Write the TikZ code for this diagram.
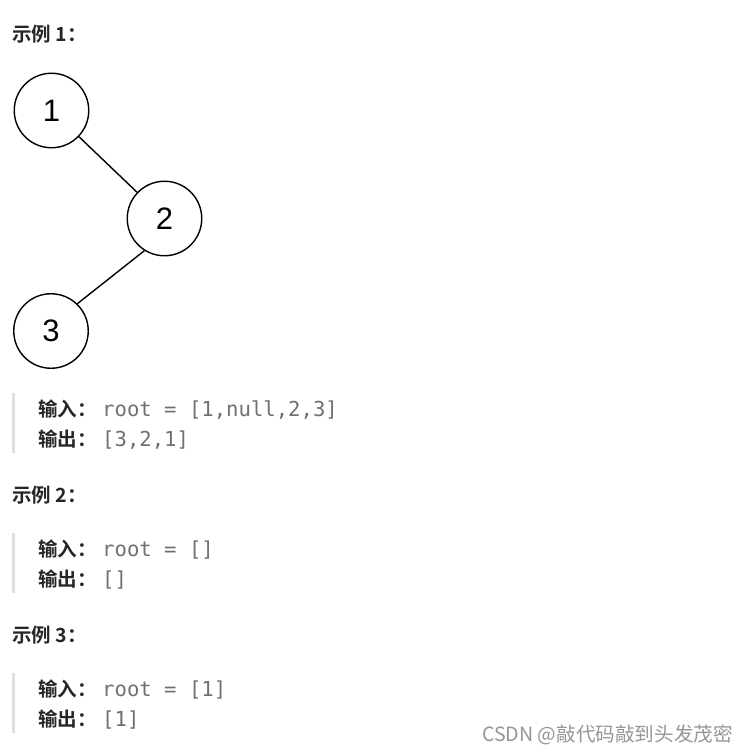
\documentclass[tikz,border=0pt]{standalone}
\usepackage{fontspec}
\setmainfont{Liberation Sans}
\newfontfamily\cjk{Noto Sans CJK SC}
\newfontfamily\cjkbold{Noto Sans CJK SC Bold}
\newfontfamily\codefont{DejaVu Sans Mono}
\definecolor{titlegray}{RGB}{38, 38, 38}
\definecolor{codegray}{RGB}{112, 112, 112}
\definecolor{bargray}{RGB}{222, 222, 222}
\definecolor{markgray}{RGB}{150, 150, 150}
\tikzset{
	treenode/.style = {circle, draw, line width = 1.4pt, minimum size = 74.5pt, inner sep = 0pt, font = \fontsize{31}{31}\selectfont},
	label cn/.style = {anchor = base west, inner sep = 0pt, text = titlegray, font = \cjkbold\fontsize{19.5}{20}\selectfont},
	label code/.style = {anchor = base west, inner sep = 0pt, text = codegray, font = \codefont\fontsize{20.6}{21}\selectfont}
}

\begin{document}
\begin{tikzpicture}[x = 1pt, y = -1pt]

	% Page

	\fill [white] (0, 0) rectangle (747, 753);
	\useasboundingbox (0, 0) rectangle (747, 753);

	% Tree of example 1

	\node [treenode] (n1) at (51.5, 110.5) {1};
	\node [treenode] (n2) at (164.5, 218.5) {2};
	\node [treenode] (n3) at (51, 331) {3};

	\draw [line width = 1.4pt] (n1) -- (n2);
	\draw [line width = 1.4pt] (n2.238) -- (n3.46);

	% Examples: title baseline, block top, input, output

	\foreach \k / \ty / \by / \inp / \outp in {1/41/393/{[1,null,2,3]}/{[3,2,1]}, 2/502/533/{[]}/{[]}, 3/642/673/{[1]}/{[1]}}
	{

		% Title

		\node [label cn] (title\k) at (12, \ty) {示例 \k：};

		% Quote bar

		\fill [bargray] (12, \by) rectangle (15, {\by + 60});

		% Input and output lines

		\node [label cn] (in\k) at (38, {\by + 23}) {输入：};
		\node [label code] (incode\k) at (102, {\by + 23}) {root = \inp};
		\node [label cn] (out\k) at (38, {\by + 53}) {输出：};
		\node [label code] (outcode\k) at (102, {\by + 53}) {\outp};
	}

	% Watermark

	\node [anchor = base east, inner sep = 0pt, text = markgray, font = \cjk\fontsize{19.6}{20}\selectfont] (mark) at (733, 741) {CSDN @敲代码敲到头发茂密};

\end{tikzpicture}
\end{document}
